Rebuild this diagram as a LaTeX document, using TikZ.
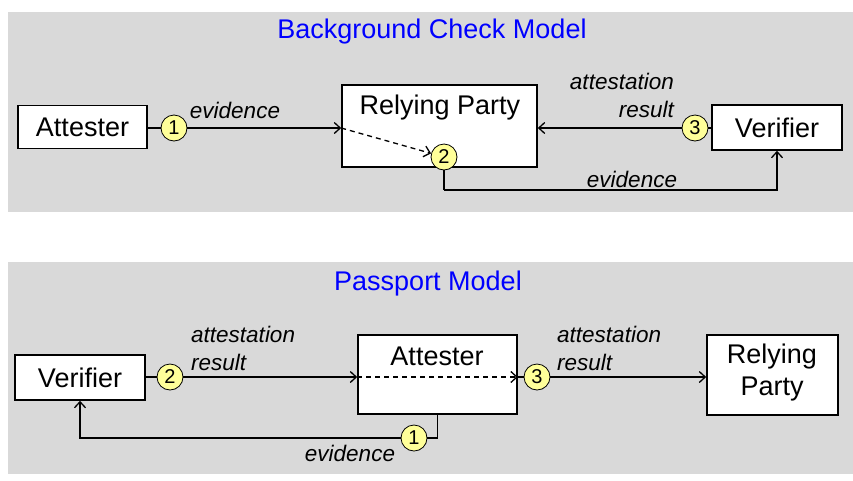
\documentclass[tikz,border=0pt]{standalone}
\usepackage{fontspec}
\setmainfont{Liberation Sans}
\usetikzlibrary{arrows.meta,calc}
\definecolor{panelgray}{HTML}{D9D9D9}
\definecolor{cyellow}{HTML}{FFFF99}
\definecolor{tblue}{HTML}{0000FF}
\begin{document}
\begin{tikzpicture}[x=1pt,y=-1pt,
 panel/.style={fill=panelgray},
 box/.style={draw,line width=1.6pt,fill=white,inner sep=0pt},
 num/.style={circle,draw,line width=0.8pt,fill=cyellow,minimum size=26pt,inner sep=0pt,font=\fontsize{20}{20}\selectfont},
 lbl/.style={font=\fontsize{27}{27}\selectfont,inner sep=0pt},
 elbl/.style={font=\fontsize{22.5}{28}\selectfont\itshape,inner sep=0pt},
 ttl/.style={text=tblue,font=\fontsize{27}{27}\selectfont},
 conn/.style={line width=1.3pt},
 arr/.style={conn,-{Straight Barb[length=6pt,width=11pt]}},
]
\useasboundingbox (0,0) rectangle (853,480);
\fill[white] (0,0) rectangle (853,480);
% panels
\fill[panel] (8,12) rectangle (853,212);
\fill[panel] (8,262) rectangle (853,474);

% ---------- Background Check Model ----------
\node[ttl] (t1) at (432,32) {Background Check Model};
\node[box,minimum width=129pt,minimum height=43pt] (att1) at (82.5,127) {};
\node[lbl] at (att1) {Attester};
\node[box,minimum width=195pt,minimum height=82pt] (rp1) at (439.5,126) {};
\node[lbl] (rp1t) at (440,108) {Relying Party};
\node[box,minimum width=130pt,minimum height=45pt] (ver1) at (777,127.5) {};
\node[lbl] at (ver1) {Verifier};
\node[num] (a1) at (174,128) {1};
\node[num] (a2) at (444,157) {2};
\node[num] (a3) at (695,128) {3};
\coordinate (rpin) at (a1 -| rp1.west);
\coordinate (bk1) at (444,190);
\draw[conn] (att1.east |- a1) -- (a1);
\draw[arr] (a1) -- (rpin);
\draw[arr,dashed,dash pattern=on 5pt off 4pt] (rpin) -- (a2);
\draw[conn] (a2) -- (bk1);
\draw[arr] (bk1) -| (ver1.south);
\draw[conn] (ver1.west |- a3) -- (a3);
\draw[arr] (a3) -- (a3 -| rp1.east);
\node[elbl] (e1) at (235,110) {evidence};
\node[elbl,align=right,anchor=east] (ar1) at (674,95) {attestation\\result};
\node[elbl] (e2) at (632,179) {evidence};

% ---------- Passport Model ----------
\node[ttl] (t2) at (428,284) {Passport Model};
\node[box,minimum width=130pt,minimum height=45pt] (ver2) at (80,377.5) {};
\node[lbl] at (ver2) {Verifier};
\node[box,minimum width=159pt,minimum height=79pt] (att2) at (437.5,374.5) {};
\node[lbl] (att2t) at (437,356) {Attester};
\node[box,minimum width=131pt,minimum height=80pt] (rp2) at (772.5,375) {};
\node[lbl,align=center,font=\fontsize{27}{32}\selectfont] (rp2t) at (772,373) {Relying\\Party};
\node[num] (b2) at (170,377) {2};
\node[num] (b3) at (537,377) {3};
\node[num] (b1) at (414,438) {1};
\coordinate (attin) at (b2 -| att2.west);
\coordinate (attout) at (b2 -| att2.east);
\draw[conn] (ver2.east |- b2) -- (b2);
\draw[arr] (b2) -- (attin);
\draw[arr,dashed,dash pattern=on 5pt off 4pt] (attin) -- (attout);
\draw[conn] (attout) -- (b3);
\draw[arr] (b3) -- (b3 -| rp2.west);
\draw[conn] (att2.south) |- (b1);
\draw[arr] (b1) -| (ver2.south);
\node[elbl,align=left,anchor=west] (ar2) at (191,348) {attestation\\result};
\node[elbl,align=left,anchor=west] (ar3) at (557,348) {attestation\\result};
\node[elbl] (e3) at (350,453) {evidence};
\end{tikzpicture}
\end{document}
